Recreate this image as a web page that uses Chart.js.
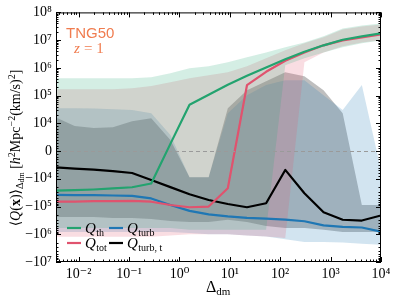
<!DOCTYPE html>
<html><head><meta charset="utf-8">
<script src="https://cdn.jsdelivr.net/npm/chart.js@4.4.1/dist/chart.umd.min.js"></script>
<style>html,body{margin:0;padding:0;background:#fff;}#wrap{width:395px;height:298px;}</style>
</head><body><div id="wrap"><canvas id="c" width="395" height="298"></canvas></div>
<script>
// ---------- data ----------
const deltaDm = [0.00347, 0.00832, 0.01995, 0.04786, 0.1148, 0.2754, 0.6607, 1.585, 3.802, 9.12, 21.88, 52.48, 125.9, 302.0, 724.4, 1738, 4169, 10000];

const qTh    = [-2.68e4, -2.57e4, -2.43e4, -2.23e4, -2.02e4, -1.48e4, 2.6e3, 4.7e4, 1.08e5, 2.47e5, 5.15e5, 1.03e6, 2.04e6, 3.8e6, 6.5e6, 1.03e7, 1.37e7, 1.76e7];
const qTot   = [-6.7e4, -6.6e4, -6.4e4, -6.4e4, -6.3e4, -6.7e4, -8.8e4, -1.06e5, -1.0e5, -2.2e4, 2.37e5, 7.2e5, 1.8e6, 3.6e6, 6.5e6, 9.8e6, 1.26e7, 1.62e7];
const qTurb  = [-3.8e4, -3.9e4, -3.9e4, -4.0e4, -4.1e4, -5.1e4, -8.8e4, -1.44e5, -1.92e5, -2.27e5, -2.57e5, -2.72e5, -2.96e5, -3.4e5, -4.8e5, -5.4e5, -5.7e5, -8.0e5];
const qTurbT = [-5.9e3, -6.3e3, -6.7e3, -7.2e3, -7.9e3, -1.1e4, -2.0e4, -3.6e4, -5.8e4, -8.1e4, -1.06e5, -7.6e4, -6.8e3, -3.3e4, -1.6e5, -3.0e5, -3.2e5, -2.1e5];

const thHi    = [4.2e5, 4.2e5, 4.2e5, 4.2e5, 4.2e5, 4.6e5, 6.4e5, 9.7e5, 1.14e6, 1.6e6, 2.4e6, 3.6e6, 5.5e6, 8.3e6, 1.37e7, 2.65e7, 3.4e7, 4.0e7];
const thLo    = [-5.9e5, -5.9e5, -5.9e5, -5.9e5, -5.9e5, -5.9e5, -5.9e5, -6.9e5, -6.9e5, -6.9e5, -6.9e5, -6.9e5, 1.24e6, 2.2e6, 3.6e6, 5.5e6, 7.7e6, 9.8e6];
const totHi   = [1.7e5, 1.7e5, 1.7e5, 1.7e5, 1.85e5, 2.2e5, 3.0e5, 4.2e5, 5.4e5, 6.9e5, 1.14e6, 2.2e6, 4.3e6, 7.7e6, 1.26e7, 2.44e7, 3.1e7, 3.7e7];
const totLo   = [-1.24e6, -1.24e6, -1.24e6, -1.24e6, -1.24e6, -1.24e6, -1.1e6, -1.0e6, -1.0e6, -1.0e6, -1.1e6, -1.2e6, -1.35e6, 1.6e6, 3.6e6, 6.0e6, 8.3e6, 1.0e7];
const turbHi  = [3.5e4, 3.5e4, 3.4e4, 3.2e4, 3.0e4, 2.3e4, 5.8e3, -9.4e3, -9.4e3, 2.3e4, 1.03e5, 2.4e5, 3.6e5, 3.6e5, 1.03e5, 3.0e4, 2.4e5, -6.8e3];
const turbLo  = [-8.2e5, -8.2e5, -8.2e5, -8.2e5, -8.2e5, -8.2e5, -8.2e5, -9.0e5, -1.0e6, -1.0e6, -1.1e6, -1.2e6, -1.5e6, -1.9e6, -1.9e6, -2.0e6, -2.2e6, -2.4e6];
const turbTHi = [1.67e4, 9.0e3, 8.3e3, 8.6e3, 1.2e4, 1.54e4, 4.0e3, -9.4e3, -9.4e3, 3.5e4, 1.56e5, 3.3e5, 6.9e5, 5.0e5, 1.56e5, 2.3e4, -8.8e4, -8.8e4];
const turbTLo = [-2.4e5, -2.4e5, -2.4e5, -2.6e5, -2.6e5, -2.8e5, -3.3e5, -3.6e5, -3.6e5, -3.0e5, -3.6e5, -5.0e5, -5.9e5, -5.9e5, -6.9e5, -8.2e5, -8.2e5, -8.2e5];

const xTicks  = [1e-2, 1e-1, 1, 10, 100, 1000, 10000];
const xLabels = ['10⁻²', '10⁻¹', '10⁰', '10¹', '10²', '10³', '10⁴'];
const yTicks  = [1e8, 1e7, 1e6, 1e5, 1e4, 0, -1e4, -1e5, -1e6, -1e7];
const yLabels = ['10⁸', '10⁷', '10⁶', '10⁵', '10⁴', '0', '−10⁴', '−10⁵', '−10⁶', '−10⁷'];

// ---------- symlog scale ----------
const LT = 1e4;
function symU(v){ const a = Math.abs(v); return a <= LT ? v / LT : Math.sign(v) * (1 + Math.log10(a / LT)); }
function symInv(u){ const a = Math.abs(u); return a <= 1 ? u * LT : Math.sign(u) * LT * Math.pow(10, a - 1); }
class SymlogScale extends Chart.Scale {
  determineDataLimits(){ this.min = this.options.min; this.max = this.options.max; }
  buildTicks(){ return yTicks.map(v => ({value: v})); }
  configure(){ super.configure(); this._uMin = symU(this.min); this._uMax = symU(this.max); }
  getPixelForValue(v){ return this.getPixelForDecimal((symU(v) - this._uMin) / (this._uMax - this._uMin)); }
  getValueForPixel(p){ return symInv(this._uMin + this.getDecimalForPixel(p) * (this._uMax - this._uMin)); }
  getLabelForValue(v){ return String(v); }
}
SymlogScale.id = 'symlog';
SymlogScale.defaults = {};
Chart.register(SymlogScale);

// ---------- datasets ----------
const pts = arr => deltaDm.map((x, i) => ({x, y: arr[i]}));
const bands = [
  {hi: thHi, lo: thLo, color: 'rgba(38,168,118,0.2)'},
  {hi: totHi, lo: totLo, color: 'rgba(226,84,112,0.2)'},
  {hi: turbHi, lo: turbLo, color: 'rgba(31,120,180,0.2)'},
  {hi: turbTHi, lo: turbTLo, color: 'rgba(0,0,0,0.25)'}
];
const lines = [
  {d: qTh, c: '#23a36f'},
  {d: qTot, c: '#e0536e'},
  {d: qTurb, c: '#1f77b4'},
  {d: qTurbT, c: '#000000'}
];
const datasets = [];
bands.forEach(b => {
  datasets.push({data: pts(b.hi), fill: '+1', backgroundColor: b.color, borderColor: 'rgba(0,0,0,0)', borderWidth: 0, pointRadius: 0, order: 5, tension: 0});
  datasets.push({data: pts(b.lo), fill: false, borderColor: 'rgba(0,0,0,0)', borderWidth: 0, pointRadius: 0, order: 5, tension: 0});
});
lines.forEach(l => {
  datasets.push({data: pts(l.d), fill: false, borderColor: l.c, borderWidth: 2.2, pointRadius: 0, order: 0, tension: 0, borderJoinStyle: 'round'});
});

const SERIF = '"Liberation Serif", "DejaVu Serif", serif';

const deco = {
  id: 'deco',
  afterDatasetsDraw(chart){
    const {ctx, chartArea: a, scales: {y}} = chart;
    const py = Math.round(y.getPixelForValue(0)) + 0.5;
    ctx.save(); ctx.strokeStyle = '#9a9a9a'; ctx.lineWidth = 1; ctx.setLineDash([4, 3]);
    ctx.beginPath(); ctx.moveTo(a.left, py); ctx.lineTo(a.right, py); ctx.stroke(); ctx.restore();
  },
  afterDraw(chart){
    const {ctx, chartArea: a, scales: {x, y}} = chart;
    ctx.save();
    ctx.strokeStyle = '#000'; ctx.lineWidth = 1;
    ctx.strokeRect(a.left + 0.5, a.top + 0.5, a.right - a.left - 1, a.bottom - a.top - 1);
    const seg = (x1, y1, x2, y2) => { ctx.beginPath(); ctx.moveTo(x1, y1); ctx.lineTo(x2, y2); ctx.stroke(); };
    const xv = (v, len) => { const px = Math.round(x.getPixelForValue(v)) + 0.5; if (px < a.left || px > a.right + 1) return; seg(px, a.bottom, px, a.bottom - len); seg(px, a.top, px, a.top + len); };
    xTicks.forEach(v => xv(v, 5));
    for (let k = -3; k <= 3; k++) for (let m = 2; m <= 9; m++) { const v = m * Math.pow(10, k); if (v > x.min && v < x.max) xv(v, 2.5); }
    const yv = (v, len) => { const py = Math.round(y.getPixelForValue(v)) + 0.5; if (py < a.top || py > a.bottom + 1) return; seg(a.left, py, a.left + len, py); seg(a.right, py, a.right - len, py); };
    yTicks.forEach(v => yv(v, 5));
    for (let k = 4; k <= 7; k++) for (let m = 2; m <= 9; m++) { yv(m * Math.pow(10, k), 2.5); if (k < 7) yv(-m * Math.pow(10, k), 2.5); }
    for (let m = 1; m <= 9; m++) { yv(m * 1e3, 2.5); yv(-m * 1e3, 2.5); }

    const leg = [
      {c: '#23a36f', x: 67, y: 228, s: 'th'},
      {c: '#1f77b4', x: 109, y: 228, s: 'turb'},
      {c: '#e0536e', x: 67, y: 243, s: 'tot'},
      {c: '#000000', x: 109, y: 243, s: 'turb, t'}
    ];
    leg.forEach(l => {
      ctx.strokeStyle = l.c; ctx.lineWidth = 2.2; seg(l.x, l.y, l.x + 14, l.y);
      ctx.fillStyle = '#000'; ctx.textBaseline = 'alphabetic'; ctx.textAlign = 'left';
      ctx.font = 'italic 15px ' + SERIF; ctx.fillText('Q', l.x + 18, l.y + 5);
      const w = ctx.measureText('Q').width;
      ctx.font = '10px ' + SERIF; ctx.fillText(l.s, l.x + 18 + w + 0.5, l.y + 8);
    });

    ctx.fillStyle = '#f07c4f';
    ctx.font = '15px "Liberation Sans", "DejaVu Sans", sans-serif';
    ctx.fillText('TNG50', 66, 38);
    ctx.font = 'italic 15px ' + SERIF; ctx.fillText('z', 74, 53);
    ctx.font = '15px ' + SERIF; ctx.fillText('= 1', 84, 53);

    ctx.fillStyle = '#000';
    ctx.font = '16px ' + SERIF; ctx.fillText('Δ', 206, 292);
    const wd = ctx.measureText('Δ').width;
    ctx.font = '11px ' + SERIF; ctx.fillText('dm', 206 + wd, 295);

    const big = '14px ' + SERIF, bigI = 'italic 14px ' + SERIF, bigB = 'bold 14px ' + SERIF, sm = '10px ' + SERIF, sm2 = '8px ' + SERIF;
    const pieces = [
      {t: '⟨', f: big, dy: 0}, {t: 'Q', f: bigI, dy: 0}, {t: '(', f: big, dy: 0}, {t: 'x', f: bigB, dy: 0}, {t: ')', f: big, dy: 0}, {t: '⟩', f: big, dy: 0},
      {t: 'Δ', f: sm, dy: 3}, {t: 'dm', f: sm2, dy: 4},
      {t: ' [', f: big, dy: 0}, {t: 'h', f: bigI, dy: 0}, {t: '2', f: sm, dy: -5}, {t: 'Mpc', f: big, dy: 0}, {t: '−2', f: sm, dy: -5},
      {t: '(km/s)', f: big, dy: 0}, {t: '2', f: sm, dy: -5}, {t: ']', f: big, dy: 0}
    ];
    let tot = 0;
    pieces.forEach(p => { ctx.font = p.f; p.w = ctx.measureText(p.t).width; tot += p.w; });
    ctx.translate(20, 148); ctx.rotate(-Math.PI / 2);
    let cx = -tot / 2;
    pieces.forEach(p => { ctx.font = p.f; ctx.fillText(p.t, cx, p.dy); cx += p.w; });
    ctx.restore();
  }
};

new Chart(document.getElementById('c'), {
  type: 'line',
  data: {datasets},
  options: {
    responsive: false, animation: false, devicePixelRatio: 1,
    layout: {padding: {left: 0, top: 12, right: 14, bottom: 0}},
    plugins: {legend: {display: false}, tooltip: {enabled: false}},
    scales: {
      x: {
        type: 'logarithmic', min: 0.00355, max: 10000,
        grid: {display: false, drawTicks: false}, border: {display: false},
        afterBuildTicks: s => { s.ticks = xTicks.map(v => ({value: v})); },
        afterFit: s => { s.height = 36; },
        ticks: {autoSkip: false, maxRotation: 0, padding: 4, color: '#000', font: {family: SERIF, size: 14},
          callback: v => xLabels[xTicks.indexOf(v)]}
      },
      y: {
        type: 'symlog', min: -1e7, max: 1e8,
        grid: {display: false, drawTicks: false}, border: {display: false},
        afterFit: s => { s.width = 56; },
        ticks: {autoSkip: false, padding: 4, color: '#000', font: {family: SERIF, size: 14},
          callback: v => yLabels[yTicks.indexOf(v)]}
      }
    }
  },
  plugins: [deco]
});
</script></body></html>
